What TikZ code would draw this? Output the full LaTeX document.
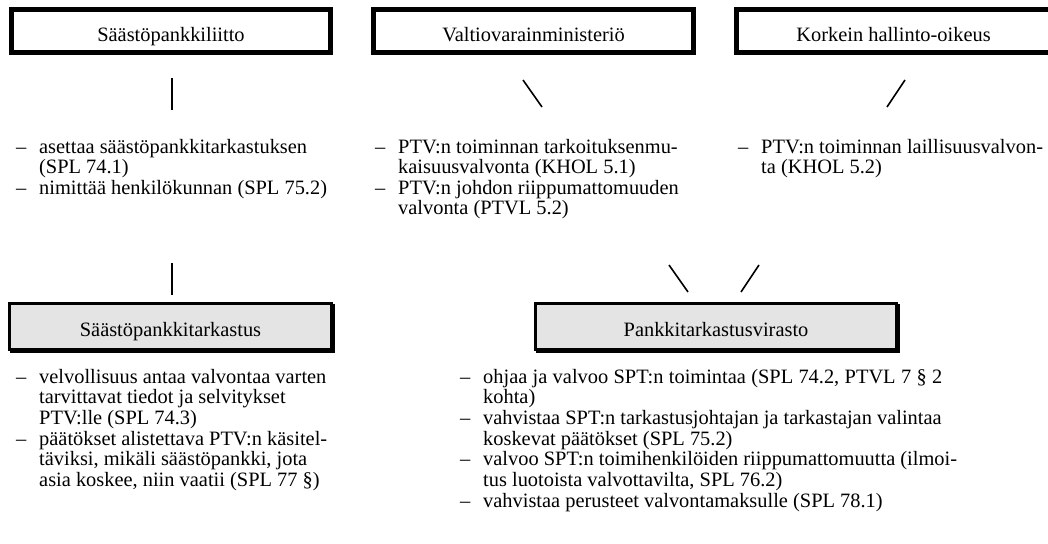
\documentclass[tikz,border=0pt]{standalone}
\usepackage{fontspec}
\setmainfont{Liberation Serif}
\usetikzlibrary{shadows}
\definecolor{boxgray}{RGB}{228,228,228}
\newcommand\itemdash{\makebox[23pt][l]{–}}
\begin{document}
\begin{tikzpicture}[x=1pt,y=-1pt,
  txt/.style={anchor=base west,inner sep=0pt,font=\fontsize{20.4}{24}\selectfont},
  topbox/.style={draw,line width=5pt,inner sep=0pt,minimum height=43pt,
    text height=20.5pt,text depth=0pt,font=\fontsize{20.4}{24}\selectfont},
  lowbox/.style={draw,line width=3pt,fill=boxgray,inner sep=0pt,minimum height=46pt,
    text height=20.5pt,text depth=0pt,font=\fontsize{20.4}{24}\selectfont,
    drop shadow={shadow xshift=2pt,shadow yshift=-2pt,fill=black,draw=black,line width=3pt,opacity=1}},
  conn/.style={line width=1.6pt}]
\useasboundingbox (0,0) rectangle (1048,543);

% top boxes
\node[topbox,minimum width=319pt] (spl) at (171,31) {Säästöpankkiliitto};
\node[topbox,minimum width=320pt] (vm) at (533.5,31) {Valtiovarainministeriö};
\node[topbox,minimum width=315pt] (kho) at (893.5,31) {Korkein hallinto-oikeus};

% bottom boxes
\node[lowbox,minimum width=322pt] (spt) at (170.5,326.5) {Säästöpankkitarkastus};
\node[lowbox,minimum width=361pt] (ptv) at (716,326.5) {Pankkitarkastusvirasto};

% connector ticks
\coordinate (a1) at (172,78);  \coordinate (a2) at (172,110);
\coordinate (b1) at (523,80);  \coordinate (b2) at (542,107);
\coordinate (c1) at (905,80);  \coordinate (c2) at (887,107);
\coordinate (d1) at (172,263); \coordinate (d2) at (172,295);
\coordinate (e1) at (669,265); \coordinate (e2) at (688,292);
\coordinate (f1) at (759,265); \coordinate (f2) at (741,292);
\draw[conn] (a1) -- (a2);
\draw[conn] (b1) -- (b2);
\draw[conn] (c1) -- (c2);
\draw[conn] (d1) -- (d2);
\draw[conn] (e1) -- (e2);
\draw[conn] (f1) -- (f2);

% column 1 (top)
\node[txt] (t1a) at (16,153) {\itemdash asettaa säästöpankkitarkastuksen};
\node[txt] (t1b) at (39,173.5) {(SPL 74.1)};
\node[txt] (t1c) at (16,194) {\itemdash nimittää henkilökunnan (SPL 75.2)};

% column 2 (top)
\node[txt] (t2a) at (375,153) {\itemdash PTV:n toiminnan tarkoituksenmu-};
\node[txt] (t2b) at (398,173.5) {kaisuusvalvonta (KHOL 5.1)};
\node[txt] (t2c) at (375,194) {\itemdash PTV:n johdon riippumattomuuden};
\node[txt] (t2d) at (398,214.5) {valvonta (PTVL 5.2)};

% column 3 (top)
\node[txt] (t3a) at (738,153) {\itemdash PTV:n toiminnan laillisuusvalvon-};
\node[txt] (t3b) at (761,173.5) {ta (KHOL 5.2)};

% lower left
\node[txt] (l1a) at (16,383) {\itemdash velvollisuus antaa valvontaa varten};
\node[txt] (l1b) at (39,403.7) {tarvittavat tiedot ja selvitykset};
\node[txt] (l1c) at (39,424.4) {PTV:lle (SPL 74.3)};
\node[txt] (l1d) at (16,445.1) {\itemdash päätökset alistettava PTV:n käsitel-};
\node[txt] (l1e) at (39,465.8) {täviksi, mikäli säästöpankki, jota};
\node[txt] (l1f) at (39,486.5) {asia koskee, niin vaatii (SPL 77 §)};

% lower right
\node[txt] (l2a) at (460,383) {\itemdash\makebox[459pt][s]{ohjaa ja valvoo SPT:n toimintaa (SPL 74.2, PTVL 7 § 2}};
\node[txt] (l2b) at (483,403.7) {kohta)};
\node[txt] (l2c) at (460,424.4) {\itemdash vahvistaa SPT:n tarkastusjohtajan ja tarkastajan valintaa};
\node[txt] (l2d) at (483,445.1) {koskevat päätökset (SPL 75.2)};
\node[txt] (l2e) at (460,465.8) {\itemdash valvoo SPT:n toimihenkilöiden riippumattomuutta (ilmoi-};
\node[txt] (l2f) at (483,486.5) {tus luotoista valvottavilta, SPL 76.2)};
\node[txt] (l2g) at (460,507.2) {\itemdash vahvistaa perusteet valvontamaksulle (SPL 78.1)};
\end{tikzpicture}
\end{document}
